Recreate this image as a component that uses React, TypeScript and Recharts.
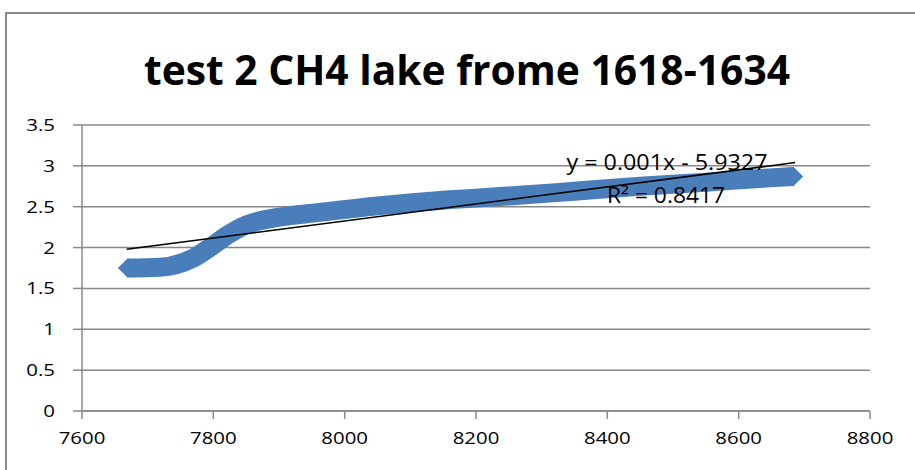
import React from "react";
import { ComposedChart, Line, XAxis, YAxis, CartesianGrid } from "recharts";

const xValues = [7670, 7719, 7769, 7800, 7821, 7851, 7891, 7962, 8050, 8150, 8250, 8350, 8450, 8550, 8641, 8683];
const yValues = [1.75, 1.76, 1.87, 2.03, 2.15, 2.28, 2.36, 2.43, 2.51, 2.58, 2.63, 2.69, 2.75, 2.8, 2.85, 2.87];
const trendX = [7668, 8686];
const trendY = [1.98, 3.04];
const xTicks = [7600, 7800, 8000, 8200, 8400, 8600, 8800];
const yTicks = [0, 0.5, 1, 1.5, 2, 2.5, 3, 3.5];
const title = "test 2 CH4 lake frome 1618-1634";
const eqLabel = "y = 0.001x - 5.9327";
const r2Label = "R² = 0.8417";

const series = xValues.map((x, i) => ({ x, y: yValues[i] }));
const trend = trendX.map((x, i) => ({ x, y: trendY[i] }));

const BLUE = "#4A7EBB";
const GRID = "#888888";
const FONT = "'Open Sans', sans-serif";

const EndDiamond = (props: any) => {
  const { cx, cy, index } = props;
  if (cx == null || cy == null) return null;
  if (index !== 0 && index !== xValues.length - 1) return <g />;
  const hw = 10, hh = 10;
  return <polygon points={`${cx - hw},${cy} ${cx},${cy - hh} ${cx + hw},${cy} ${cx},${cy + hh}`} fill={BLUE} stroke="none" />;
};

const XTick = (props: any) => {
  const { x, y, payload } = props;
  return (
    <g transform={`translate(${x},${y + 23}) scale(1.2,1)`}>
      <text textAnchor="middle" fontFamily={FONT} fontSize={17} fill="#000">{payload.value}</text>
    </g>
  );
};

const YTick = (props: any) => {
  const { x, y, payload } = props;
  return (
    <g transform={`translate(${x - 16},${y + 6}) scale(1.2,1)`}>
      <text textAnchor="end" fontFamily={FONT} fontSize={17} fill="#000">{payload.value}</text>
    </g>
  );
};

export default function App() {
  return (
    <div style={{ position: "absolute", left: 0, top: 0, width: 915, height: 470, background: "#fff", overflow: "hidden" }}>
      <div style={{ position: "absolute", left: 5, top: 12, width: 930, height: 480, borderLeft: `2px solid ${GRID}`, borderTop: `2px solid ${GRID}`, boxSizing: "border-box" }} />
      <div style={{ position: "absolute", left: 0, top: 0 }}>
        <ComposedChart width={915} height={470} margin={{ top: 125, right: 45, bottom: 0, left: 0 }}>
          <CartesianGrid horizontal={true} vertical={false} stroke={GRID} strokeWidth={1.5} />
          <XAxis
            type="number"
            dataKey="x"
            domain={[7600, 8800]}
            ticks={xTicks}
            height={59}
            stroke={GRID}
            strokeWidth={1.5}
            tickSize={8}
            tick={<XTick />}
            tickLine={{ stroke: GRID, strokeWidth: 1.5 }}
            allowDuplicatedCategory={false}
          />
          <YAxis
            type="number"
            domain={[0, 3.5]}
            ticks={yTicks}
            width={82}
            stroke={GRID}
            strokeWidth={1.5}
            tickSize={9}
            tick={<YTick />}
            tickLine={{ stroke: GRID, strokeWidth: 1.5 }}
          />
          <Line
            data={series}
            dataKey="y"
            type="monotone"
            stroke={BLUE}
            strokeWidth={19}
            dot={<EndDiamond />}
            activeDot={false}
            isAnimationActive={false}
          />
          <Line
            data={trend}
            dataKey="y"
            type="linear"
            stroke="#000"
            strokeWidth={1.5}
            dot={false}
            activeDot={false}
            isAnimationActive={false}
          />
        </ComposedChart>
      </div>
      <svg width={915} height={470} style={{ position: "absolute", left: 0, top: 0, pointerEvents: "none" }}>
        <text x={467} y={85} textAnchor="middle" fontFamily={FONT} fontWeight={700} fontSize={41} textLength={646} lengthAdjust="spacingAndGlyphs" fill="#000">{title}</text>
        <text x={667} y={170} textAnchor="middle" fontFamily={FONT} fontSize={21} textLength={201} lengthAdjust="spacingAndGlyphs" fill="#000">{eqLabel}</text>
        <text x={666} y={203} textAnchor="middle" fontFamily={FONT} fontSize={21} textLength={118} lengthAdjust="spacingAndGlyphs" fill="#000">{r2Label}</text>
      </svg>
    </div>
  );
}
